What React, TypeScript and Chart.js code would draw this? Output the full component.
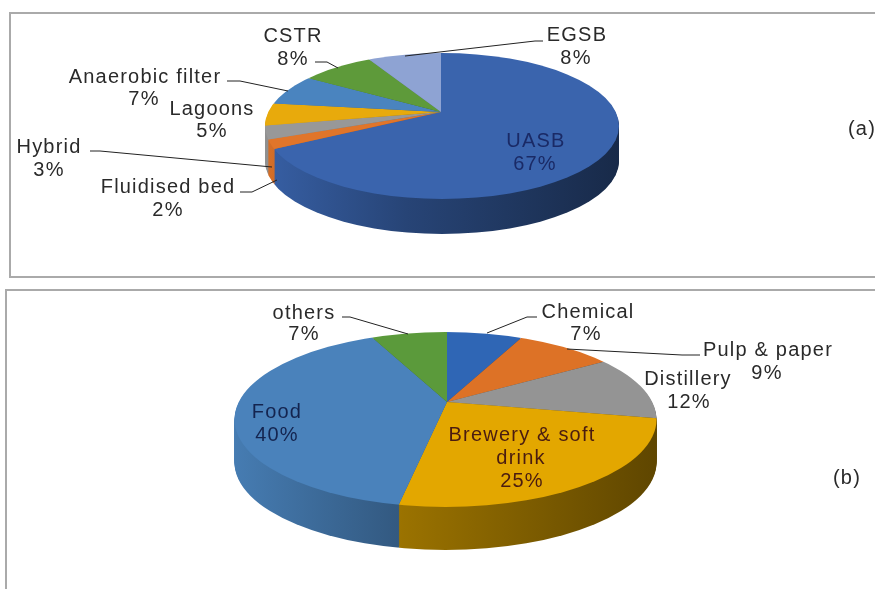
import React, { useEffect, useRef } from "react";
import { Chart, registerables } from "chart.js";

Chart.register(...registerables);

// ---- data ----
const categoriesA = ["UASB", "Fluidised bed", "Hybrid", "Lagoons", "Anaerobic filter", "CSTR", "EGSB"];
const valuesA = [67, 2, 3, 5, 7, 8, 8];
const colorsA = ["#3a64ad", "#e0752a", "#989898", "#e8aa0c", "#4a84bf", "#5e9a3a", "#8ea3d3"];

const categoriesB = ["Chemical", "Pulp & paper", "Distillery", "Brewery & soft drink", "Food", "others"];
const valuesB = [7, 9, 12, 25, 40, 7];
const colorsB = ["#2f66b5", "#dd7226", "#949494", "#e3a700", "#4a82bb", "#5b9a3b"];

// ---- 3-D projection of each pie (ellipse of the top face and the projected centre) ----
const viewA = { cx: 442, cy: 126, rx: 177, ry: 73, apexX: 441, apexY: 112, tilt: 0.402, depth: 35 };
const viewB = { cx: 445.5, cy: 419.5, rx: 211, ry: 87.5, apexX: 447, apexY: 402, tilt: 0.406, depth: 43 };

// ---- annotation layout ----
const leadersA = [
  [[315, 62], [327, 62], [338, 68]],
  [[227, 81], [240, 81], [288, 91]],
  [[405, 56], [535, 41], [543, 41]],
  [[90, 151], [100, 151], [272, 167]],
  [[240, 192], [252, 192], [277, 180]],
];
const leadersB = [
  [[342, 317], [350, 317], [408, 334]],
  [[537, 317], [527, 317], [487, 333]],
  [[700, 355], [682, 355], [567, 349]],
];

const DARK = "#2a2a2a";
type Label = { t: string; x: number; y: number; c?: string };
const labels: Label[] = [
  { t: "CSTR", x: 293, y: 35 }, { t: "8%", x: 293, y: 58 },
  { t: "EGSB", x: 577, y: 34 }, { t: "8%", x: 576, y: 57 },
  { t: "Anaerobic filter", x: 145, y: 76 }, { t: "7%", x: 144, y: 98 },
  { t: "Lagoons", x: 212, y: 108 }, { t: "5%", x: 212, y: 130 },
  { t: "Hybrid", x: 49, y: 146 }, { t: "3%", x: 49, y: 169 },
  { t: "Fluidised bed", x: 168, y: 186 }, { t: "2%", x: 168, y: 209 },
  { t: "UASB", x: 536, y: 140, c: "#1a2a66" }, { t: "67%", x: 535, y: 163, c: "#1a2a66" },
  { t: "(a)", x: 862, y: 128 },
  { t: "others", x: 304, y: 312 }, { t: "7%", x: 304, y: 333 },
  { t: "Food", x: 277, y: 411, c: "#14244f" }, { t: "40%", x: 277, y: 434, c: "#14244f" },
  { t: "Chemical", x: 588, y: 311 }, { t: "7%", x: 586, y: 333 },
  { t: "Pulp & paper", x: 768, y: 349 }, { t: "9%", x: 767, y: 372 },
  { t: "Distillery", x: 688, y: 378 }, { t: "12%", x: 689, y: 401 },
  { t: "Brewery & soft", x: 522, y: 434, c: "#4a1c10" }, { t: "drink", x: 521, y: 457, c: "#4a1c10" },
  { t: "25%", x: 522, y: 480, c: "#4a1c10" },
  { t: "(b)", x: 847, y: 477 },
];

const WALL_SHADE = [[0, 0.95], [0.4, 0.68], [1, 0.42]];

function shade(hex: string, m: number) {
  const n = parseInt(hex.slice(1), 16);
  const f = (v: number) => Math.round(v * m);
  return `rgb(${f((n >> 16) & 255)},${f((n >> 8) & 255)},${f(n & 255)})`;
}

function pie3d(view: typeof viewA, leaders: number[][][]) {
  let saved = false;
  return {
    id: "pie3d",
    beforeDatasetsDraw(chart: any) {
      const ctx = chart.ctx as CanvasRenderingContext2D;
      const els = chart.getDatasetMeta(0).data as any[];
      const first = els[0];
      const sx = (1.5 * view.rx) / first.outerRadius;
      const sy = sx * view.tilt;
      const project = () => {
        ctx.translate(view.apexX, view.apexY);
        ctx.scale(sx, sy);
        ctx.translate(-first.x, -first.y);
      };
      const clipFace = () => {
        ctx.beginPath();
        ctx.ellipse(view.cx, view.cy, view.rx, view.ry, 0, 0, Math.PI * 2);
        ctx.clip();
      };
      // side wall: the slices repeated downward with darkened gradients
      const u0 = first.x + (view.cx - view.rx - view.apexX) / sx;
      const u1 = first.x + (view.cx + view.rx - view.apexX) / sx;
      const fills = els.map((el) => {
        const g = ctx.createLinearGradient(u0, 0, u1, 0);
        WALL_SHADE.forEach(([t, m]) => g.addColorStop(t, shade(el.options.backgroundColor, m)));
        return g;
      });
      for (let d = view.depth; d > 0; d--) {
        ctx.save();
        ctx.translate(0, d);
        clipFace();
        project();
        els.forEach((el, i) => {
          const o = el.options;
          el.options = { ...o, backgroundColor: fills[i] };
          el.draw(ctx);
          el.options = o;
        });
        ctx.restore();
      }
      // top face, drawn by the library itself under this transform
      ctx.save();
      clipFace();
      project();
      saved = true;
    },
    afterDatasetsDraw(chart: any) {
      const ctx = chart.ctx as CanvasRenderingContext2D;
      if (saved) ctx.restore();
      saved = false;
      ctx.save();
      ctx.strokeStyle = "#222";
      ctx.lineWidth = 1;
      leaders.forEach((pts) => {
        ctx.beginPath();
        pts.forEach(([x, y], i) => (i ? ctx.lineTo(x, y) : ctx.moveTo(x, y)));
        ctx.stroke();
      });
      ctx.restore();
    },
  };
}

function Pie({ cats, vals, cols, view, leaders }: any) {
  const ref = useRef<HTMLCanvasElement>(null);
  useEffect(() => {
    const chart = new Chart(ref.current!, {
      type: "pie",
      data: {
        labels: cats,
        datasets: [{ data: vals, backgroundColor: cols, borderWidth: 0, clip: false as any }],
      },
      options: {
        animation: false,
        responsive: false,
        devicePixelRatio: 1,
        plugins: { legend: { display: false }, tooltip: { enabled: false } },
      },
      plugins: [pie3d(view, leaders)],
    } as any);
    return () => chart.destroy();
  }, []);
  return (
    <canvas
      ref={ref}
      width={875}
      height={589}
      style={{ position: "absolute", left: 0, top: 0, width: 875, height: 589 }}
    />
  );
}

export default function App() {
  return (
    <div
      style={{
        position: "fixed",
        left: 0,
        top: 0,
        width: 875,
        height: 589,
        overflow: "hidden",
        background: "#fff",
        filter: "blur(0.35px)",
      }}
    >
      <div style={{ position: "absolute", left: 9, top: 12, width: 900, height: 266, border: "2px solid #aaa", boxSizing: "border-box" }} />
      <div style={{ position: "absolute", left: 5, top: 289, width: 900, height: 400, border: "2px solid #aaa", boxSizing: "border-box" }} />
      <Pie cats={categoriesA} vals={valuesA} cols={colorsA} view={viewA} leaders={leadersA} />
      <Pie cats={categoriesB} vals={valuesB} cols={colorsB} view={viewB} leaders={leadersB} />
      {labels.map((l, i) => (
        <div
          key={i}
          style={{
            position: "absolute",
            left: l.x,
            top: l.y,
            transform: "translate(-50%,-50%)",
            whiteSpace: "nowrap",
            font: '20px "Liberation Sans", Arial, sans-serif',
            letterSpacing: "1.2px",
            lineHeight: "22px",
            color: l.c || DARK,
          }}
        >
          {l.t}
        </div>
      ))}
    </div>
  );
}
